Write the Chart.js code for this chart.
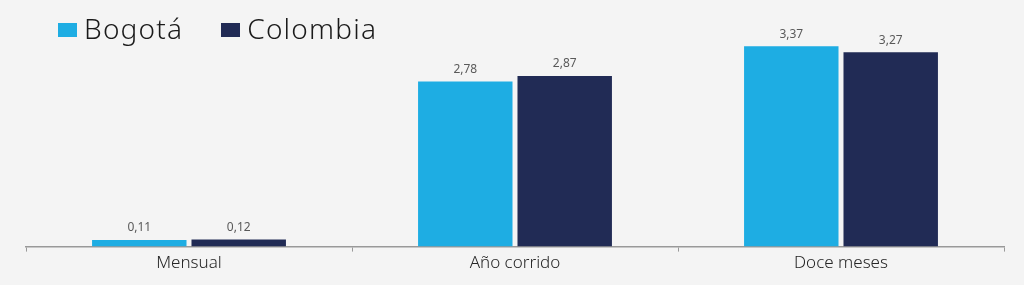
<!DOCTYPE html>
<html>
<head>
<meta charset="utf-8">
<script src="https://cdn.jsdelivr.net/npm/chart.js@4"></script>
<style>
  html, body { margin: 0; padding: 0; background: #f4f4f4; }
  #wrap { position: relative; width: 1024px; height: 285px; }
  #legend { position: absolute; left: 58px; top: 9px; font-family: "Noto Sans", sans-serif; font-weight: 300; font-size: 28px; letter-spacing: 1.2px; color: #1a1a1a; display: flex; align-items: center; }
  #legend .item { display: flex; align-items: center; margin-right: 38px; }
  #legend .box { width: 19px; height: 14px; margin-right: 7px; margin-top: 4px; }
</style>
</head>
<body>
<div id="wrap">
  <canvas id="grafica" width="1024" height="285"></canvas>
  <div id="legend"></div>
</div>
<script>
// Datos
const categorias = ['Mensual', 'Año corrido', 'Doce meses'];
const series = ['Bogotá', 'Colombia'];
const valoresBogota = [0.11, 2.78, 3.37];
const valoresColombia = [0.12, 2.87, 3.27];
const colores = ['#1eade3', '#212b55'];

// Leyenda en HTML
const leg = document.getElementById('legend');
series.forEach((s, i) => {
    leg.innerHTML += `<div class="item"><span class="box" style="background:${colores[i]}"></span>${s}</div>`;
});

// Etiquetas sobre las barras
const etiquetas = {
    id: 'etiquetas',
    afterDatasetsDraw(chart) {
        const ctx = chart.ctx;
        ctx.save();
        ctx.font = '12px "Noto Sans", sans-serif';
        ctx.fillStyle = '#595959';
        ctx.textAlign = 'center';
        ctx.textBaseline = 'bottom';
        chart.data.datasets.forEach((ds, i) => {
            chart.getDatasetMeta(i).data.forEach((bar, j) => {
                ctx.fillText(ds.data[j].toFixed(2).replace('.', ','), bar.x, bar.y - 6);
            });
        });
        ctx.restore();
    }
};

new Chart(document.getElementById('grafica'), {
    type: 'bar',
    data: {
        labels: categorias,
        datasets: [
            { label: series[0], data: valoresBogota, backgroundColor: colores[0] },
            { label: series[1], data: valoresColombia, backgroundColor: colores[1] }
        ]
    },
    options: {
        responsive: false,
        animation: false,
        layout: { padding: { left: 26, right: 20, top: 0, bottom: 11 } },
        datasets: { bar: { categoryPercentage: 0.61, barPercentage: 0.95 } },
        scales: {
            x: {
                grid: { drawOnChartArea: false, offset: true, tickLength: 5, color: '#999999' },
                border: { color: '#999999', width: 1.5 },
                ticks: { color: '#262626', font: { family: '"Noto Sans", sans-serif', size: 17, weight: '300' }, padding: 1 }
            },
            y: { display: false, min: 0, max: 4.15 }
        },
        plugins: { legend: { display: false }, tooltip: { enabled: false } }
    },
    plugins: [etiquetas]
});
</script>
</body>
</html>
